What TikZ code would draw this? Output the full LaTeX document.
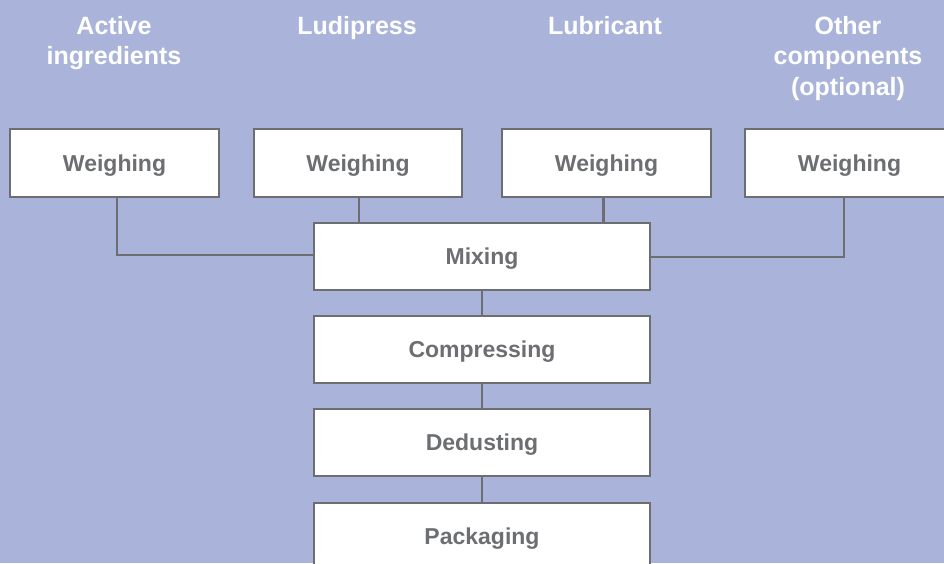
\documentclass[tikz,border=0pt]{standalone}
\usepackage{fontspec}
\setmainfont{Liberation Sans}
\definecolor{bgc}{RGB}{170,180,218}
\definecolor{grayc}{RGB}{109,110,114}
\begin{document}
\begin{tikzpicture}[x=1pt,y=-1pt,
  box/.style={draw=grayc,line width=2pt,fill=white,inner sep=0pt,anchor=north west,
    font=\fontsize{23}{28}\selectfont\bfseries,text=grayc,text height=20.5pt,text depth=4.5pt},
  head/.style={text=white,font=\fontsize{25}{30.5}\selectfont\bfseries,align=center,anchor=north},
  conn/.style={draw=grayc,line width=2.2pt}]
\fill[bgc] (0,0) rectangle (944,563);
\useasboundingbox (0,0) rectangle (944,563);
% headings
\node[head] (h1) at (114,12.5) {Active\\ingredients};
\node[head] (h2) at (357,12.5) {Ludipress};
\node[head] (h3) at (605,12.5) {Lubricant};
\node[head] (h4) at (848,12.5) {Other\\components\\(optional)};
% weighing boxes
\node[box,minimum width=209pt,minimum height=68pt] (w1) at (9,128) {Weighing};
\node[box,minimum width=208pt,minimum height=68pt] (w2) at (253,128) {Weighing};
\node[box,minimum width=209pt,minimum height=68pt] (w3) at (501,128) {Weighing};
\node[box,minimum width=209pt,minimum height=68pt] (w4) at (744,128) {Weighing};
% process boxes
\node[box,minimum width=336pt,minimum height=67pt] (mix) at (313,222) {Mixing};
\node[box,minimum width=336pt,minimum height=67pt] (comp) at (313,315) {Compressing};
\node[box,minimum width=336pt,minimum height=67pt] (dedu) at (313,408) {Dedusting};
\node[box,minimum width=336pt,minimum height=67pt] (pack) at (313,502) {Packaging};
% connectors
\coordinate (c1) at (117,255);
\coordinate (c4) at (844,257);
\draw[conn] (w1.south -| c1) -- (c1) -- (c1 -| mix.west);
\draw[conn] (w4.south -| c4) -- (c4) -- (c4 -| mix.east);
\draw[conn] ([xshift=1pt]w2.south) -- ([xshift=1pt]w2.south |- mix.north);
\draw[conn] ([xshift=-3pt]w3.south) -- ([xshift=-3pt]w3.south |- mix.north);
\draw[conn] (mix.south) -- (comp.north);
\draw[conn] (comp.south) -- (dedu.north);
\draw[conn] (dedu.south) -- (pack.north);
\end{tikzpicture}
\end{document}
